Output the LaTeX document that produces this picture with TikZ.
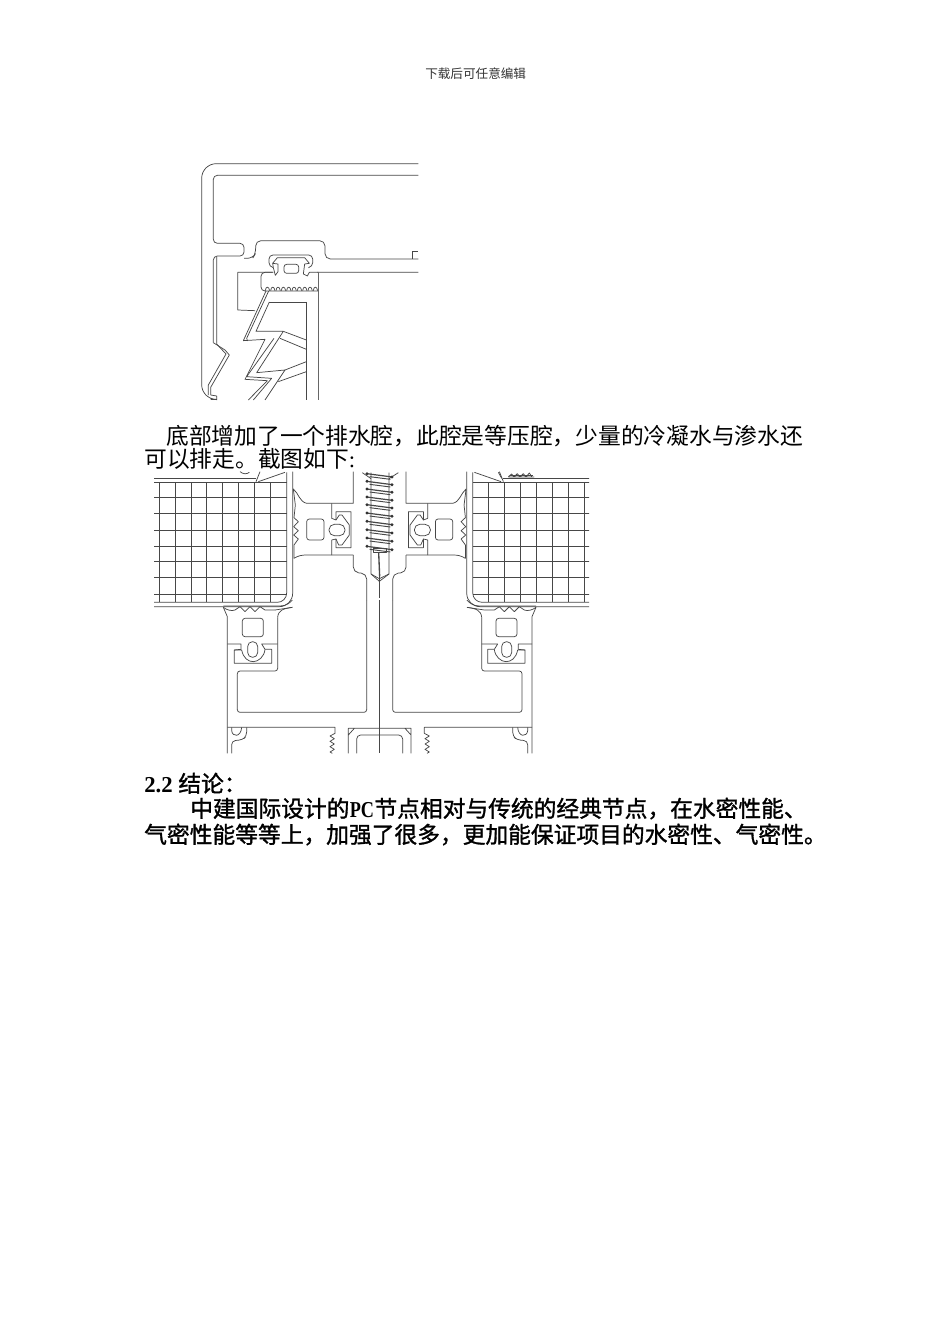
\documentclass[tikz,border=0pt]{standalone}
\usepackage{fontspec}
\setmainfont{Liberation Serif}
\newfontfamily\cjk{Noto Sans CJK SC}
\newfontfamily\cjkstrong[FakeBold=1.3]{Noto Sans CJK SC}
\tikzset{
  cad/.style={draw=black!72,line width=.55pt,line join=round},
  bodytext/.style={inner sep=0pt,anchor=base west,font=\fontsize{17.06}{20}\selectfont\cjk},
  strongtext/.style={inner sep=0pt,anchor=base west,font=\fontsize{17.06}{20}\selectfont\cjkstrong},
  headtext/.style={inner sep=0pt,anchor=base west,font=\fontsize{9.45}{12}\selectfont\cjk,text=black!80},
}
\newcommand{\gridhalf}{%
  \draw[cad] (12,40)--(318,40) (12,52)--(410,52);
  \foreach \gy in {98,146,195,243,290,338,387} \draw[cad] (12,\gy)--(410,\gy);
  \foreach \gx in {28,76,124,170,218,266,314,362} \draw[cad] (\gx,52)--(\gx,412);
  \draw[cad] (318,50)--(330,20) (325,50)--(405,22);
  \draw[cad,rounded corners=7pt] (410,22)--(410,412)--(12,412);
  \draw[cad,rounded corners=10pt] (428,20)--(428,425)--(12,425);
  \draw[cad] (610,20)--(610,115)--(470,115) .. controls (448,110) and (446,85) .. (430,72)
     --(436,120)--(432,158)--(445,170)--(431,185)--(445,197)--(431,210)--(445,222)--(432,240)--(432,280)
     .. controls (445,272) and (455,270) .. (470,270)--(610,270);
  \draw[cad,rounded corners=4pt] (610,270)--(610,322)--(650,326)--(650,405);
  \draw[cad] (545,115)--(545,160)--(558,165)--(558,140)--(603,140)--(603,248)--(558,248)--(558,222)--(545,225)--(545,270);
  \draw[cad] (558,165)--(568,150)--(576,150)--(598,180)--(598,210)--(576,240)--(566,240)--(558,222);
  \draw[cad,rounded corners=2pt] (470,162) rectangle (522,225);
  \draw[cad,rounded corners=4pt] (537,178) rectangle (585,212);
}
\newcommand{\lowerhalf}{%
  \draw[cad] (25,22)--(37,50)--(37,460);
  \draw[cad] (25,22) .. controls (35,30) and (50,34) .. (60,30)--(75,20)--(90,35)--(105,20)--(120,35)--(135,20)--(150,30)--(180,30);
  \draw[cad] (25,18)--(195,18) .. controls (215,18) and (225,8) .. (232,0);
  \draw[cad] (232,22) .. controls (205,26) and (190,30) .. (188,52);
  \draw[cad] (180,30)--(232,22);
  \draw[cad,rounded corners=2pt] (188,52)--(188,213)--(67,213)--(67,337)--(455,337)--(455,0);
  \draw[cad] (37,132)--(78,132)--(78,148)--(58,150)--(58,190)--(170,190)--(170,148)--(150,148)--(140,132)--(188,132);
  \draw[cad] (58,150)--(80,150) .. controls (85,175) and (100,185) .. (115,185) .. controls (130,185) and (148,170) .. (150,148);
  \draw[cad,rounded corners=3.6pt] (98,125) rectangle (128,172);
  \draw[cad,rounded corners=2pt] (82,55) rectangle (145,110);
  \draw[cad] (37,382)--(360,382)--(360,400)--(345,408)--(358,416)--(345,424)--(358,432)--(345,440)--(358,448)--(345,456)--(352,460);
  \draw[cad] (400,460)--(400,385)--(494,385) (400,405)--(418,385);
  \draw[cad,rounded corners=3pt] (425,460)--(425,405)--(494,405);
  \draw[cad] (50,382)--(50,392) .. controls (52,412) and (78,412) .. (80,382);
  \draw[cad,rounded corners=3pt] (95,382)--(95,408)--(82,420)--(50,422)--(50,460);
}
\begin{document}
\begin{tikzpicture}[x=.75pt,y=-.75pt]
\useasboundingbox (0,0) rectangle (950,1344);
\fill[white] (0,0) rectangle (950,1344);
% texts
\node[headtext] (hdr) at (425,79) {下载后可任意编辑};
\node[bodytext] (p1) at (166,444) {底部增加了一个排水腔，此腔是等压腔，少量的冷凝水与渗水还};
\node[bodytext] (p2) at (144,467) {可以排走。截图如下{\rmfamily:}};
\node[strongtext] (h2) at (144,792) {{\rmfamily\bfseries 2.2 }结论：};
\node[strongtext] (p3) at (190,817) {中建国际设计的\makebox[18.75pt]{\rmfamily\bfseries\scalebox{.8}[1]{PC}}节点相对与传统的经典节点，在水密性能、};
\node[strongtext] (p4) at (144,843) {气密性能等等上，加强了很多，更加能保证项目的水密性、气密性。};
% upper detail
\begin{scope}[shift={(190,150)},x=.25pt,y=-.25pt]
  \draw[cad,rounded corners=11pt] (685,41)--(35,41)--(35,748)--(62,748);
  \draw[cad] (62,748)--(80,748);
  \draw[cad,rounded corners=3pt] (685,76)--(70,76)--(70,280)--(162,280)--(162,318)--(70,318)--(70,578);
  \draw[cad] (70,578)--(105,600)--(118,615)--(62,712)--(62,735)--(80,738)--(80,750);
  \draw[cad] (80,320)--(80,582)--(108,612)--(55,705)--(55,735);
  \draw[cad,rounded corners=4pt] (162,325)--(188,325)--(197,310)--(197,272)--(405,272)--(405,327)--(685,327);
  \draw[cad] (667,327)--(667,305)--(685,305);
  \draw[cad] (143,367)--(248,367) (382,367)--(685,367) (143,367)--(143,480)--(195,482);
  \draw[cad,rounded corners=3pt] (250,353)--(237,350)--(237,315)--(368,315)--(368,350)--(355,353);
  \draw[cad] (250,353)--(248,340)--(262,323)--(344,323)--(358,340)--(344,342)--(340,372)--(352,378)--(358,367)--(385,367);
  \draw[cad] (248,340)--(264,342)--(264,365)--(256,376)--(250,353);
  \draw[cad,rounded corners=2pt] (282,343) rectangle (326,370);
  \draw[cad,rounded corners=3pt] (250,367)--(213,367)--(213,423)--(385,423);
  \foreach \sx in {226,242,258,274,290,306,322,338,354,370}
    \draw[cad] (\sx,422) .. controls (\sx+1,408) and (\sx+11,408) .. (\sx+13,422);
  \draw[draw=black!60,line width=1.1pt] (385,367)--(385,750);
  \draw[cad] (349,456)--(349,750) (349,456)--(238,456);
  \draw[cad] (228,423)--(160,572)--(225,568)--(165,688)--(232,692)--(175,750);
  \draw[cad] (236,423)--(170,565)--(173,573);
  \draw[cad] (238,456)--(198,544)--(280,544)--(200,668)--(285,660)--(225,750);
  \draw[cad] (252,565)--(170,680)--(245,685)--(190,750);
  \draw[cad] (280,544)--(349,570) (270,565)--(349,598) (285,660)--(349,635) (265,695)--(349,665);
\end{scope}
% left and right seal with glass
\begin{scope}[shift={(150,465)},x=.25pt,y=-.25pt]
  \gridhalf
  \draw[cad] (270,20) .. controls (280,28) and (290,28) .. (298,22);
\end{scope}
\begin{scope}[shift={(609.4,465)},x=.25pt,y=-.25pt,xscale=-1]
  \clip (61,0) rectangle (700,450);
  \gridhalf
\end{scope}
\begin{scope}[shift={(360,465)},x=.25pt,y=-.25pt]
  \draw[cad] (445,35)--(455,27)--(462,36)--(472,26)--(480,36)--(490,26)--(498,36)--(508,24)--(516,36)--(522,36)--(445,36);
  \draw[cad] (450,30)--(518,30);
  \draw[cad] (415,22)--(425,40);
\end{scope}
% screw
\begin{scope}[shift={(335,468)},x=.25pt,y=-.25pt]
  \draw[cad] (82,14)--(108,32) (190,14)--(162,32);
  \draw[cad] (108,14)--(108,318)--(133,340)--(162,318)--(162,14);
  \draw[cad] (108,318)--(133,332)--(162,318);
  \foreach \ty in {22,45,68,92,115,140,165,190,215,240} {
    \draw[cad,line width=.9pt] (95,\ty-5)--(172,\ty+5);
    \draw[cad,line width=.7pt] (104,\ty+4)--(166,\ty+12);
    \fill[black!80] (96,\ty-5) circle (1.2pt) (171,\ty+5) circle (1.2pt);
  }
  \draw[cad] (115,240)--(155,240)--(155,254)--(115,254)--cycle;
  \draw[cad,line width=1pt] (131,254)--(134,325);
  \draw[cad] (134,325)--(134,390);
\end{scope}
% lower frame
\begin{scope}[shift={(215,600)},x=.25pt,y=-.25pt]
  \lowerhalf
  \draw[cad] (494,0)--(494,460);
\end{scope}
\begin{scope}[shift={(544.33,600)},x=.25pt,y=-.25pt,xscale=-1]
  \lowerhalf
\end{scope}
\end{tikzpicture}
\end{document}
